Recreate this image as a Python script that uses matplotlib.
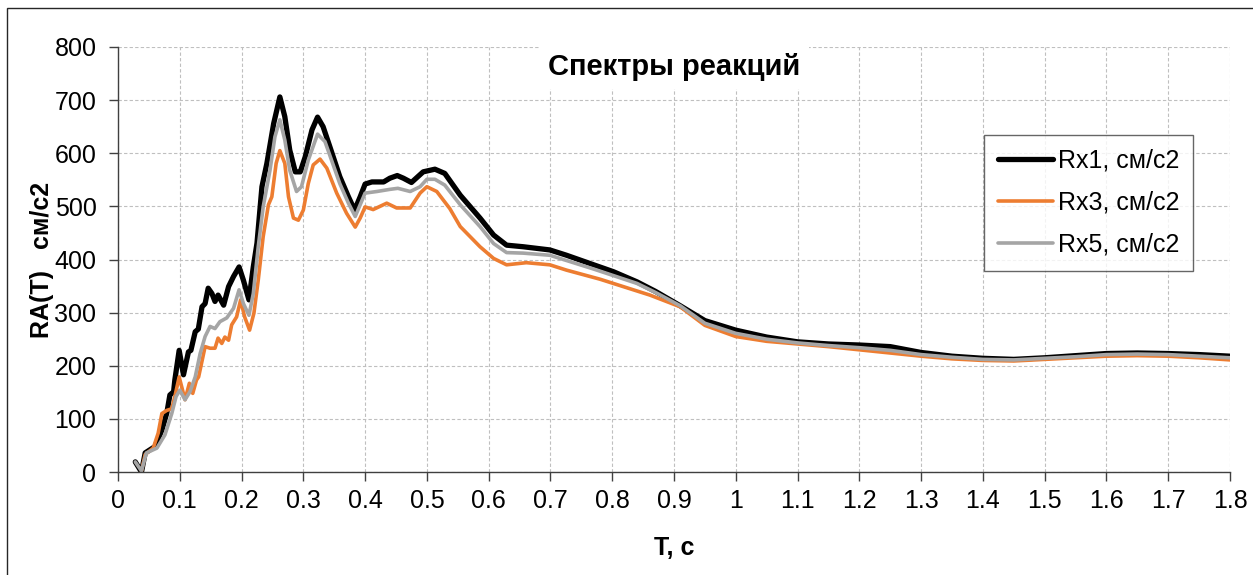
import matplotlib
matplotlib.use("Agg")
import matplotlib.pyplot as plt
from matplotlib.patches import Rectangle

# Response spectra, RA(T) in cm/s^2 versus period T in seconds
t_rx1 = [0.028, 0.038, 0.044, 0.060, 0.071, 0.079, 0.084, 0.090, 0.092, 0.099,
         0.106, 0.114, 0.118, 0.125, 0.130, 0.136, 0.141, 0.146, 0.152, 0.157,
         0.162, 0.171, 0.179, 0.187, 0.196, 0.203, 0.212, 0.219, 0.225, 0.233,
         0.241, 0.252, 0.262, 0.270, 0.278, 0.287, 0.295, 0.303, 0.314, 0.323,
         0.332, 0.343, 0.359, 0.373, 0.383, 0.392, 0.400, 0.411, 0.430, 0.440,
         0.452, 0.462, 0.475, 0.494, 0.513, 0.529, 0.554, 0.586, 0.608, 0.629,
         0.656, 0.699, 0.726, 0.770, 0.802, 0.840, 0.870, 0.910, 0.950, 1.00,
         1.05, 1.10, 1.15, 1.20, 1.25, 1.30, 1.35, 1.40, 1.45, 1.50,
         1.55, 1.60, 1.65, 1.70, 1.75, 1.80]
ra_rx1 = [19, 0, 36, 48, 79, 111, 145, 151, 173, 229,
          183, 226, 229, 264, 269, 311, 317, 346, 336, 321,
          333, 314, 349, 368, 386, 361, 324, 386, 431, 537,
          581, 656, 706, 669, 606, 565, 565, 593, 644, 668,
          650, 612, 556, 518, 493, 518, 542, 546, 546, 553,
          558, 553, 545, 565, 570, 562, 521, 478, 446, 427,
          424, 418, 408, 390, 377, 358, 340, 313, 285, 267,
          254, 245, 241, 239, 236, 225, 218, 214, 212, 215,
          219, 223, 224, 223, 221, 218]

t_rx3 = [0.038, 0.044, 0.057, 0.065, 0.071, 0.079, 0.087, 0.092, 0.099, 0.1085,
         0.1155, 0.121, 0.127, 0.1305, 0.141, 0.149, 0.157, 0.162, 0.168, 0.173,
         0.179, 0.184, 0.192, 0.1985, 0.205, 0.213, 0.220, 0.227, 0.235, 0.2435,
         0.249, 0.256, 0.262, 0.270, 0.276, 0.284, 0.292, 0.300, 0.308, 0.316,
         0.327, 0.338, 0.354, 0.370, 0.384, 0.392, 0.400, 0.413, 0.435, 0.451,
         0.473, 0.489, 0.500, 0.516, 0.537, 0.554, 0.586, 0.608, 0.629, 0.661,
         0.699, 0.726, 0.780, 0.861, 0.910, 0.950, 1.00, 1.05, 1.10, 1.15,
         1.20, 1.25, 1.30, 1.35, 1.40, 1.45, 1.50, 1.55, 1.60, 1.65,
         1.70, 1.75, 1.80]
ra_rx3 = [2, 33, 45, 73, 110, 116, 119, 142, 179, 136,
          167, 148, 173, 179, 236, 233, 233, 252, 242, 254,
          248, 277, 292, 324, 292, 267, 299, 361, 443, 503,
          518, 581, 605, 581, 518, 478, 474, 493, 543, 578,
          589, 572, 525, 487, 461, 478, 499, 494, 506, 497,
          497, 525, 537, 528, 496, 462, 424, 402, 390, 394,
          390, 380, 363, 333, 311, 276, 255, 246, 241, 236,
          230, 224, 218, 213, 210, 209, 212, 215, 218, 219,
          218, 215, 211]

t_rx5 = [0.028, 0.038, 0.046, 0.063, 0.076, 0.087, 0.094, 0.100, 0.1085, 0.1165,
         0.125, 0.133, 0.141, 0.149, 0.157, 0.165, 0.176, 0.187, 0.196, 0.203,
         0.212, 0.219, 0.227, 0.235, 0.246, 0.254, 0.262, 0.270, 0.278, 0.289,
         0.297, 0.308, 0.323, 0.335, 0.359, 0.373, 0.384, 0.392, 0.400, 0.419,
         0.440, 0.453, 0.473, 0.489, 0.500, 0.513, 0.529, 0.554, 0.586, 0.608,
         0.629, 0.656, 0.699, 0.770, 0.840, 0.870, 0.910, 0.950, 1.00, 1.05,
         1.10, 1.15, 1.20, 1.25, 1.30, 1.35, 1.40, 1.45, 1.50, 1.55,
         1.60, 1.65, 1.70, 1.75, 1.80]
ra_rx5 = [19, 2, 36, 45, 70, 110, 142, 154, 136, 151,
          179, 223, 255, 274, 270, 283, 290, 308, 343, 317,
          295, 336, 424, 499, 568, 631, 663, 625, 568, 528,
          537, 587, 636, 622, 543, 506, 481, 503, 525, 528,
          532, 534, 528, 537, 551, 551, 540, 503, 462, 430,
          413, 412, 408, 382, 355, 338, 313, 280, 261, 250,
          243, 238, 234, 229, 221, 216, 212, 211, 214, 217,
          221, 222, 221, 218, 215]

series = [
    ("Rx1, см/с2", t_rx1, ra_rx1, "#000000", 3.8),
    ("Rx3, см/с2", t_rx3, ra_rx3, "#ED7D31", 2.6),
    ("Rx5, см/с2", t_rx5, ra_rx5, "#A5A5A5", 2.6),
]

x_ticks = [round(0.1 * i, 1) for i in range(19)]
x_tick_labels = ["0", "0.1", "0.2", "0.3", "0.4", "0.5", "0.6", "0.7", "0.8", "0.9",
                 "1", "1.1", "1.2", "1.3", "1.4", "1.5", "1.6", "1.7", "1.8"]
y_ticks = [0, 100, 200, 300, 400, 500, 600, 700, 800]

plt.rcParams["font.family"] = ["Liberation Sans", "DejaVu Sans"]

fig = plt.figure(figsize=(12.53, 5.75), dpi=100)
fig.patches.append(Rectangle((7 / 1253, -0.1), 1.2, 1.1 - 8 / 575,
                             transform=fig.transFigure, fill=False,
                             edgecolor="#262626", linewidth=1.0))

ax = fig.add_axes([118 / 1253, 1 - 472 / 575, 1112 / 1253, 425 / 575])

for label, t, ra, color, lw in series:
    ax.plot(t, ra, color=color, linewidth=lw, label=label,
            solid_joinstyle="round", solid_capstyle="round")

ax.set_xlim(0, 1.8)
ax.set_ylim(0, 800)
ax.set_xticks(x_ticks)
ax.set_xticklabels(x_tick_labels)
ax.set_yticks(y_ticks)

ax.grid(True, color="#BFBFBF", linestyle=(0, (3, 2)), linewidth=0.8)
ax.set_axisbelow(True)
for side in ("top", "right"):
    ax.spines[side].set_visible(False)
for side in ("left", "bottom"):
    ax.spines[side].set_color("#404040")
    ax.spines[side].set_linewidth(1.0)
ax.tick_params(axis="both", direction="out", length=6.5, width=1.0,
               color="#404040", labelsize=18, labelcolor="#000000")
ax.tick_params(axis="x", pad=6)
ax.tick_params(axis="y", pad=9)

ax.set_title("Спектры реакций", fontsize=21, fontweight="bold", y=0.915,
             bbox=dict(facecolor="white", edgecolor="none", pad=6))
ax.set_xlabel("T, с", fontsize=18, fontweight="bold", labelpad=16)
ax.set_ylabel("RA(T)   см/с2", fontsize=18, fontweight="bold", labelpad=0)

leg = ax.legend(loc="center", bbox_to_anchor=(0.873, 0.633), fontsize=18,
                frameon=True, fancybox=False, edgecolor="#404040",
                handlelength=2.2, handletextpad=0.2, labelspacing=0.72,
                borderpad=0.55, borderaxespad=0)
leg.get_frame().set_linewidth(1.0)

fig.savefig("out.png", dpi=100)
